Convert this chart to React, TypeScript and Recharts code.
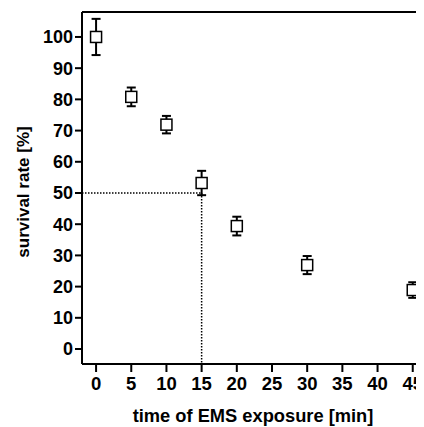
import React from 'react';
import { ComposedChart, Scatter, XAxis, YAxis, ErrorBar, ReferenceLine, Label } from 'recharts';

const times = [0, 5, 10, 15, 20, 30, 45];
const survival = [100, 80.8, 71.9, 53.2, 39.4, 26.9, 18.9];
const errors = [5.8, 3.0, 2.8, 3.9, 3.0, 2.9, 2.5];
const xTicks = [0, 5, 10, 15, 20, 25, 30, 35, 40, 45];
const yTicks = [0, 10, 20, 30, 40, 50, 60, 70, 80, 90, 100];

const data = times.map((t, i) => ({ t, s: survival[i], err: errors[i] }));

const FONT = '"Liberation Sans", Arial, sans-serif';
const X_MIN = -2;
const X_MAX = 46.6;
const Y_MIN = -4.8;
const Y_MAX = 108;

const Square = (props: any) => {
  const { cx, cy } = props;
  if (cx == null || cy == null) return null;
  return <rect x={cx - 5.5} y={cy - 5.5} width={11} height={11} fill="#fff" stroke="#000" strokeWidth={1.5} />;
};

const YLabel = (props: any) => {
  const vb = props.viewBox || {};
  const x = (vb.x || 0) + 15;
  const y = (vb.y || 0) + (vb.height || 0) / 2 + 4;
  return (
    <text
      x={x}
      y={y}
      transform={`rotate(-90, ${x}, ${y})`}
      textAnchor="middle"
      dominantBaseline="central"
      fill="#000"
      fontSize={17}
      fontWeight="bold"
      fontFamily={FONT}
    >
      survival rate [%]
    </text>
  );
};

export default function App() {
  return (
    <div>
      <style>{'.recharts-surface{overflow:visible}'}</style>
      <ComposedChart width={416} height={419} data={data} margin={{ top: 4, right: 0, bottom: 0, left: 0 }}>
        <XAxis
          dataKey="t"
          type="number"
          domain={[X_MIN, X_MAX]}
          ticks={xTicks}
          allowDataOverflow
          height={63}
          tickSize={8}
          tickMargin={5}
          stroke="#000"
          strokeWidth={2}
          tick={{ fill: '#000', fontSize: 18.5, fontWeight: 'bold', fontFamily: FONT }}
          tickLine={{ stroke: '#000', strokeWidth: 2 }}
        >
          <Label
            value="time of EMS exposure [min]"
            position="insideBottom"
            offset={5}
            style={{ fill: '#000', fontSize: 18.3, fontWeight: 'bold', fontFamily: FONT }}
          />
        </XAxis>
        <YAxis
          type="number"
          domain={[Y_MIN, Y_MAX]}
          ticks={yTicks}
          allowDataOverflow
          width={74}
          tickSize={7}
          tickMargin={2}
          stroke="#000"
          strokeWidth={2}
          tick={{ fill: '#000', fontSize: 18, fontWeight: 'bold', fontFamily: FONT }}
          tickLine={{ stroke: '#000', strokeWidth: 2 }}
        >
          <Label content={<YLabel />} />
        </YAxis>
        <ReferenceLine y={Y_MAX} stroke="#000" strokeWidth={2} />
        <ReferenceLine
          segment={[{ x: X_MIN, y: 50 }, { x: 15, y: 50 }]}
          stroke="#000"
          strokeWidth={1.5}
          strokeDasharray="1.5 1.5"
        />
        <ReferenceLine
          segment={[{ x: 15, y: 50 }, { x: 15, y: Y_MIN }]}
          stroke="#000"
          strokeWidth={1.5}
          strokeDasharray="1.5 1.5"
        />
        <Scatter data={data} dataKey="s" shape={<Square />} isAnimationActive={false}>
          <ErrorBar dataKey="err" direction="y" width={4.5} stroke="#000" strokeWidth={2} isAnimationActive={false} />
        </Scatter>
      </ComposedChart>
    </div>
  );
}
